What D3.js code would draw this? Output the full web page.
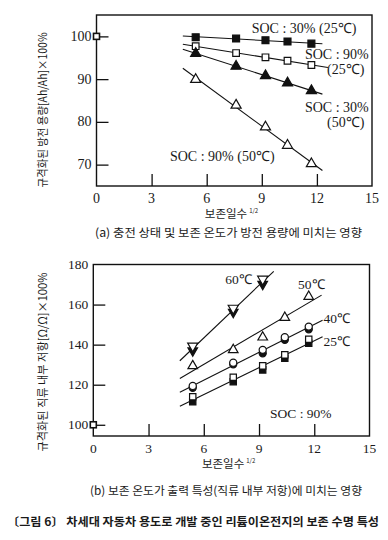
<!DOCTYPE html>
<html><head><meta charset="utf-8">
<script src="https://cdn.jsdelivr.net/npm/d3@7"></script>
<style>
body{margin:0;background:#fff;}
svg{display:block;}
.num{font-family:"Liberation Serif","Times New Roman",serif;fill:#1a1a1a;}
.kr{font-family:"Noto Sans CJK KR","Noto Sans",sans-serif;fill:#1a1a1a;}
</style></head>
<body>
<svg id="c" width="388" height="540"></svg>
<script>
// ---------- data ----------
const xDays = [5.4, 7.6, 9.2, 10.4, 11.7];          // sqrt(storage days)
const xTicks = [0, 3, 6, 9, 12, 15];

// (a) normalized discharge capacity [%]
const capYTicks = [70, 80, 90, 100];
const capSoc30_25 = [99.8, 99.5, 99.1, 98.8, 98.3];
const capSoc90_25 = [97.7, 96.1, 95.1, 94.3, 93.3];
const capSoc30_50 = [96.0, 93.0, 90.8, 89.1, 87.3];
const capSoc90_50 = [89.9, 83.9, 78.8, 74.5, 70.2];
const capFitRange = [[4.7, 12.3], [4.7, 12.6], [4.7, 12.3], [4.7, 12.3]];

// (b) normalized DC internal resistance [%]
const resYTicks = [100, 120, 140, 160, 180];
const res60Open   = [139.3, 158.2, 172.7];
const res60Filled = [137.0, 156.2, 170.2];
const res50Open   = [129.4, 137.4, 143.7, 153.5, 164.0];
const res40Open   = [119.4, 131.0, 137.4, 143.7, 149.0];
const res40Filled = [118.5, 130.2, 135.7, 142.4, 147.7];
const res25Open   = [114.0, 123.7, 129.4, 134.9, 142.7];
const res25Filled = [111.5, 121.5, 127.4, 133.2, 140.7];
const resFitRange = [[4.7, 9.8], [4.7, 12.4], [4.7, 12.45], [4.7, 12.45]];

const capLabels = [
  {t:"SOC : 30%  (25\u2103)", x:8.45, y:100.8},
  {t:"SOC : 90%", x:11.35, y:94.7},
  {t:"(25\u2103)", x:12.55, y:91.2},
  {t:"SOC : 30%", x:11.35, y:82.3},
  {t:"(50\u2103)", x:12.55, y:78.8},
  {t:"SOC : 90%  (50\u2103)", x:4.0, y:70.9}
];
const resLabels = [
  {t:"60\u2103", x:7.16, y:170.3},
  {t:"50\u2103", x:11.12, y:167.8},
  {t:"40\u2103", x:12.5, y:150.8},
  {t:"25\u2103", x:12.5, y:139.3},
  {t:"SOC : 90%", x:9.6, y:103.4}
];

// ---------- helpers ----------
const svg = d3.select("#c");
function fit(xs, ys){
  const mx = d3.mean(xs), my = d3.mean(ys);
  let sxy = 0, sxx = 0;
  xs.forEach((x,i)=>{ sxy += (x-mx)*(ys[i]-my); sxx += (x-mx)*(x-mx); });
  const b = sxy/sxx; return x => my + b*(x-mx);
}
function marker(g, shape, filled, size){
  const sym = {square:d3.symbolSquare, tri:d3.symbolTriangle, circle:d3.symbolCircle, tridown:d3.symbolTriangle}[shape];
  const p = g.append("path").attr("d", d3.symbol().type(sym).size(size))
    .attr("fill", filled ? "#111" : "#fff").attr("stroke","#111").attr("stroke-width",1.2);
  if(shape==="tridown") p.attr("transform","rotate(180)");
  return p;
}
function panel(o){
  const x = d3.scaleLinear().domain([0,15]).range([o.left, o.right]);
  const y = d3.scaleLinear().domain(o.yDom).range([o.bottom, o.top]);
  const g = svg.append("g");
  g.append("rect").attr("x",o.left).attr("y",o.top).attr("width",o.right-o.left).attr("height",o.bottom-o.top)
    .attr("fill","none").attr("stroke","#111").attr("stroke-width",1.4);
  const yAx = d3.axisRight(y).tickValues(o.yTicks.filter(v=>v<o.yDom[1])).tickSize(12).tickFormat("");
  g.append("g").attr("transform",`translate(${o.left},0)`).call(yAx)
    .call(a=>{a.select(".domain").remove(); a.selectAll("line").attr("stroke","#111").attr("stroke-width",1.3);});
  const xAx = d3.axisTop(x).tickValues(xTicks.filter(v=>v>0 && v<15)).tickSize(12).tickFormat("");
  g.append("g").attr("transform",`translate(0,${o.bottom})`).call(xAx)
    .call(a=>{a.select(".domain").remove(); a.selectAll("line").attr("stroke","#111").attr("stroke-width",1.3);});
  g.selectAll(".yl").data(o.yTicks).enter().append("text").attr("class","num")
    .attr("x",o.left-5).attr("y",d=>y(d)+o.fs*0.33).attr("text-anchor","end")
    .attr("font-size",o.fs).text(d=>d);
  g.selectAll(".xl").data(xTicks).enter().append("text").attr("class","num")
    .attr("x",d=>x(d)).attr("y",o.bottom+16.5).attr("text-anchor","middle")
    .attr("font-size",o.fs).text(d=>d);
  const xt = g.append("text").attr("class","kr").attr("x",x(7.35)).attr("y",o.bottom+32)
    .attr("text-anchor","middle").attr("font-size",11.5);
  xt.append("tspan").text("보존일수");
  xt.append("tspan").attr("dx",2).attr("dy",-5).attr("font-size",6).text("1/2");
  g.append("text").attr("class","kr").attr("transform",`translate(${o.ytX},${o.ytY}) rotate(-90)`)
    .attr("text-anchor","middle").attr("font-size",11.5)
    .attr("textLength",o.ytLen).attr("lengthAdjust","spacingAndGlyphs").text(o.yTitle);
  g.append("text").attr("class","kr").attr("x",o.capX).attr("y",o.capY).attr("font-size",11.5)
    .attr("textLength",o.capLen).attr("lengthAdjust","spacingAndGlyphs").text(o.caption);
  const og = g.append("g").attr("transform",`translate(${x(0)},${y(100)})`);
  og.append("rect").attr("x",-3).attr("y",-3).attr("width",6).attr("height",6)
    .attr("fill","#fff").attr("stroke","#111").attr("stroke-width",1.6);
  const line = d3.line().x(d=>x(d[0])).y(d=>y(d[1]));
  o.series.forEach(s=>{
    const f = fit(s.fitX, s.fitY);
    g.append("path").attr("d", line(s.range.map(v=>[v,f(v)])))
      .attr("fill","none").attr("stroke","#111").attr("stroke-width",1.1);
  });
  o.series.forEach(s=>{
    s.marks.forEach(m=>{
      m.vals.forEach((v,i)=>{
        const mg = g.append("g").attr("transform",`translate(${x(xDays[i])},${y(v)})`);
        marker(mg, m.shape, m.filled, m.size);
      });
    });
  });
  g.selectAll(".lab").data(o.labels).enter().append("text").attr("class","num")
    .attr("x",d=>x(d.x)).attr("y",d=>y(d.y)).attr("font-size",o.lfs).text(d=>d.t);
}

panel({
  left:96.5, right:372, top:15, bottom:186, yDom:[65,105], yTicks:capYTicks, fs:14, lfs:14,
  yTitle:"규격화된 방전 용량[Ah/Ah]×100%", ytX:47, ytY:110, ytLen:155,
  caption:"(a) 충전 상태 및 보존 온도가 방전 용량에 미치는 영향", capX:95, capY:237, capLen:267,
  series:[
    {fitX:xDays, fitY:capSoc30_25, range:capFitRange[0], marks:[{vals:capSoc30_25, shape:"square", filled:true, size:48}]},
    {fitX:xDays, fitY:capSoc90_25, range:capFitRange[1], marks:[{vals:capSoc90_25, shape:"square", filled:false, size:44}]},
    {fitX:xDays, fitY:capSoc30_50, range:capFitRange[2], marks:[{vals:capSoc30_50, shape:"tri", filled:true, size:44}]},
    {fitX:xDays, fitY:capSoc90_50, range:capFitRange[3], marks:[{vals:capSoc90_50, shape:"tri", filled:false, size:44}]}
  ],
  labels:capLabels
});

panel({
  left:93.3, right:369.5, top:264.5, bottom:436, yDom:[94.4,180], yTicks:resYTicks, fs:13.5, lfs:13.5,
  yTitle:"규격화된 직류 내부 저항[Ω/Ω]×100%", ytX:47, ytY:362, ytLen:179,
  caption:"(b) 보존 온도가 출력 특성(직류 내부 저항)에 미치는 영향", capX:90, capY:495, capLen:272,
  series:[
    {fitX:xDays.slice(0,3).concat(xDays.slice(0,3)), fitY:res60Open.concat(res60Filled), range:resFitRange[0],
     marks:[{vals:res60Filled, shape:"tridown", filled:true, size:40},{vals:res60Open, shape:"tridown", filled:false, size:44}]},
    {fitX:xDays, fitY:res50Open, range:resFitRange[1], marks:[{vals:res50Open, shape:"tri", filled:false, size:40}]},
    {fitX:xDays.concat(xDays), fitY:res40Open.concat(res40Filled), range:resFitRange[2],
     marks:[{vals:res40Filled, shape:"circle", filled:true, size:40},{vals:res40Open, shape:"circle", filled:false, size:40}]},
    {fitX:xDays.concat(xDays), fitY:res25Open.concat(res25Filled), range:resFitRange[3],
     marks:[{vals:res25Filled, shape:"square", filled:true, size:40},{vals:res25Open, shape:"square", filled:false, size:40}]}
  ],
  labels:resLabels
});

svg.append("text").attr("class","kr").attr("x",7).attr("y",526).attr("font-size",11.2).attr("font-weight","bold")
  .attr("textLength",372).attr("lengthAdjust","spacingAndGlyphs")
  .text("〔그림 6〕 차세대 자동차 용도로 개발 중인 리튬이온전지의 보존 수명 특성");
</script>
</body></html>
